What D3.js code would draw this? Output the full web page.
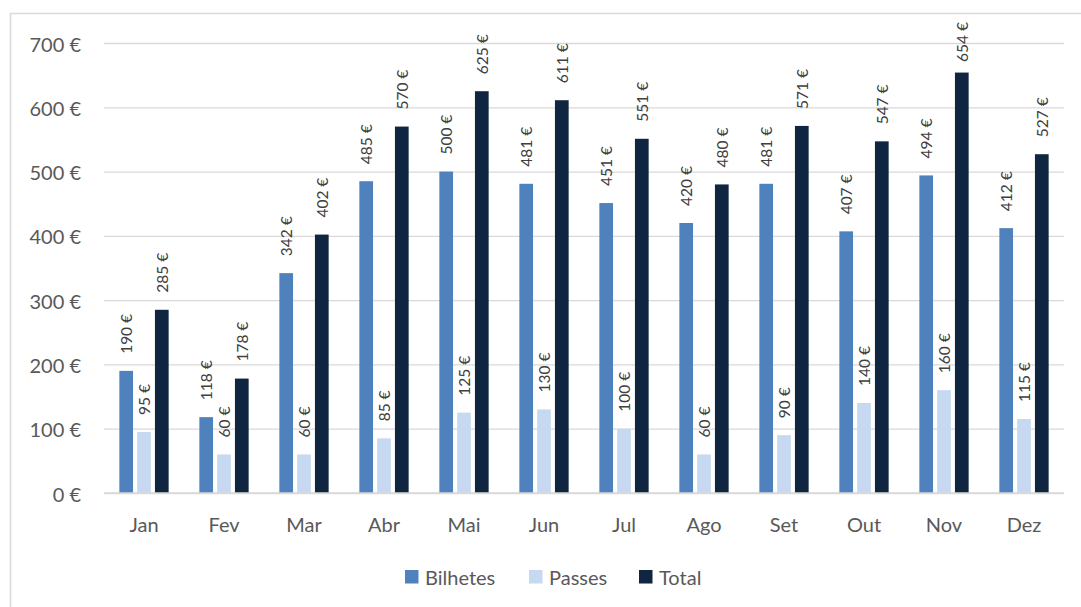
<!DOCTYPE html>
<html><head><meta charset="utf-8">
<script src="https://cdn.jsdelivr.net/npm/d3@7"></script>
<style>
html,body{margin:0;padding:0;background:#fff;}
svg{display:block;}
text{font-family:Lato,"Open Sans",sans-serif;}
</style></head>
<body>
<svg id="c" width="1081" height="607"></svg>
<script>
const months = ["Jan","Fev","Mar","Abr","Mai","Jun","Jul","Ago","Set","Out","Nov","Dez"];
const seriesNames = ["Bilhetes","Passes","Total"];
const bilhetes = [190,118,342,485,500,481,451,420,481,407,494,412];
const passes = [95,60,60,85,125,130,100,60,90,140,160,115];
const total = [285,178,402,570,625,611,551,480,571,547,654,527];
const yTicks = [0,100,200,300,400,500,600,700];
const colors = ["#4f81bd","#c6d9f1","#10253f"];

(function(){
const svg = d3.select("#c");
svg.append("rect").attr("x",10.5).attr("y",13.5).attr("width",1200).attr("height",800)
  .attr("fill","none").attr("stroke","#d9d9d9").attr("stroke-width",1.5);

const pl=104,pr=1064,pt=43,pb=493;
const x0 = d3.scaleBand().domain(months).range([pl,pr]).padding(0);
const x1 = d3.scaleBand().domain(seriesNames).range([-26.7,26.7]).paddingInner(0.23).paddingOuter(0.115);
const y = d3.scaleLinear().domain([0,700]).range([pb,pt]);

const yAxis = d3.axisLeft(y).tickValues(yTicks).tickSize(-(pr-pl)).tickFormat(d=>d+" €");
const gy = svg.append("g").attr("transform",`translate(${pl},0)`).call(yAxis);
gy.select(".domain").remove();
gy.selectAll(".tick line").attr("stroke","#d9d9d9").attr("stroke-width",1.3);
gy.selectAll(".tick text").attr("x",-23).attr("dy",null).attr("dominant-baseline","central")
  .attr("fill","#595959").attr("font-size","20px");

const xAxis = d3.axisBottom(x0).tickSize(0).tickPadding(0);
const gx = svg.append("g").attr("transform",`translate(0,${pb})`).call(xAxis);
gx.select(".domain").remove();
gx.selectAll(".tick text").attr("dy",null).attr("y",31).attr("dominant-baseline","central")
  .attr("fill","#595959").attr("font-size","20px");

const data = months.map((m,i)=>({m, vals:[bilhetes[i],passes[i],total[i]]}));
const groups = svg.append("g").selectAll("g").data(data).join("g")
  .attr("transform",d=>`translate(${x0(d.m)+x0.bandwidth()/2},0)`);
groups.selectAll("rect").data(d=>d.vals.map((v,k)=>({v,k}))).join("rect")
  .attr("x",d=>x1(seriesNames[d.k])).attr("width",x1.bandwidth())
  .attr("y",d=>y(d.v)).attr("height",d=>pb-y(d.v)).attr("fill",d=>colors[d.k]);

svg.append("line").attr("x1",pl).attr("x2",pr).attr("y1",pb).attr("y2",pb)
  .attr("stroke","#d9d9d9").attr("stroke-width",1.5);

groups.selectAll("text.lbl").data(d=>d.vals.map((v,k)=>({v,k}))).join("text")
  .attr("class","lbl").attr("font-size","15.5px").attr("fill","#404040")
  .attr("dominant-baseline","central").attr("text-anchor","start")
  .text(d=>d.v+" €")
  .each(function(d){
    const len = this.getComputedTextLength();
    let yb = y(d.v)-17;
    if (yb-len < 22) yb = 22+len;
    const cx = x1(seriesNames[d.k])+x1.bandwidth()/2;
    d3.select(this).attr("transform",`translate(${cx},${yb}) rotate(-90)`);
  });

const legX=[405,529,639];
const leg = svg.append("g").selectAll("g").data(seriesNames).join("g")
  .attr("transform",(d,i)=>`translate(${legX[i]},570)`);
leg.append("rect").attr("width",13.5).attr("height",13.5).attr("fill",(d,i)=>colors[i]);
leg.append("text").attr("x",20).attr("y",7).attr("dominant-baseline","central")
  .attr("font-size","20px").attr("fill","#595959").text(d=>d);
})();
</script>
</body></html>
